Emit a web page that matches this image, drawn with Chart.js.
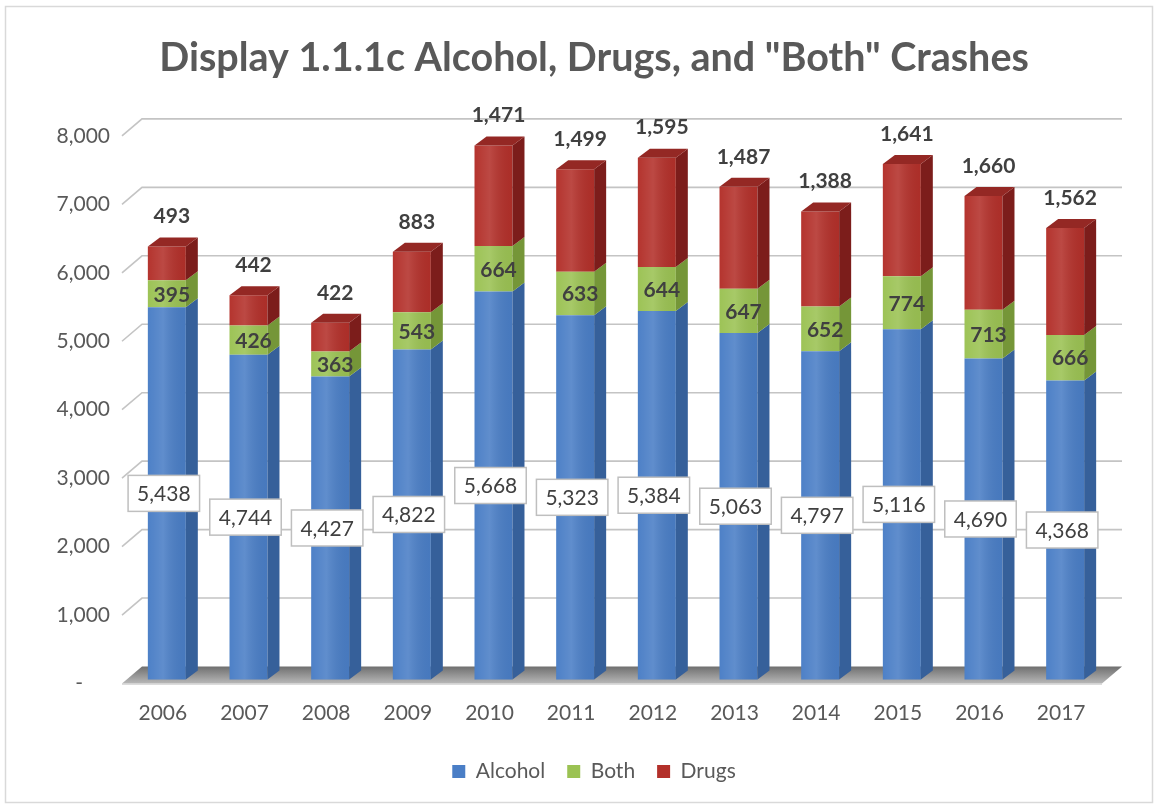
<!DOCTYPE html>
<html lang="en">
<head>
    <meta charset="UTF-8">
    <title>Display 1.1.1c Alcohol, Drugs, and "Both" Crashes</title>
    <script src="https://cdn.jsdelivr.net/npm/chart.js"></script>
    <style>
        body {
            margin: 0;
            padding: 0;
            background-color: #ffffff;
        }
        #chart {
            display: block;
        }
    </style>
</head>
<body>
    <canvas id="chart" width="1158" height="808"></canvas>

    <script>
        // data
        const years = ['2006', '2007', '2008', '2009', '2010', '2011', '2012', '2013', '2014', '2015', '2016', '2017'];
        const alcohol = [5438, 4744, 4427, 4822, 5668, 5323, 5384, 5063, 4797, 5116, 4690, 4368];
        const both = [395, 426, 363, 543, 664, 633, 644, 647, 652, 774, 713, 666];
        const drugs = [493, 442, 422, 883, 1471, 1499, 1595, 1487, 1388, 1641, 1660, 1562];
        const yTicks = [0, 1000, 2000, 3000, 4000, 5000, 6000, 7000, 8000];

        const frontColors = ['#4a7ec6', '#9bc253', '#b3302a'];
        const sideColors = ['#36609a', '#759638', '#7c1d1b'];
        const topColor = '#942824';

        // 3d geometry
        const DX = 12, DY = -9;     // bar depth
        const WX = 20, WY = -17;    // wall/floor depth
        const SX = 4, SY = -4;      // bars sit a bit behind the front plane

        const fmt = v => v.toLocaleString('en-US');

        function poly(ctx, pts, fill) {
            ctx.beginPath();
            ctx.moveTo(pts[0][0], pts[0][1]);
            for (let i = 1; i < pts.length; i++) ctx.lineTo(pts[i][0], pts[i][1]);
            ctx.closePath();
            ctx.fillStyle = fill;
            ctx.fill();
        }

        const bar3d = {
            id: 'bar3d',
            beforeDraw(chart) {
                const { ctx, width, height } = chart;
                ctx.save();
                ctx.fillStyle = '#ffffff';
                ctx.fillRect(0, 0, width, height);
                ctx.strokeStyle = '#d9d9d9';
                ctx.lineWidth = 1.5;
                ctx.strokeRect(5.5, 6.5, width - 11, height - 12);
                ctx.restore();
            },
            beforeDatasetsDraw(chart) {
                const { ctx, chartArea: a, scales } = chart;
                const y = scales.y;
                ctx.save();

                // back wall gridlines with the little slant on the side wall
                ctx.strokeStyle = '#c4c4c4';
                ctx.lineWidth = 1.6;
                y.ticks.forEach(t => {
                    if (t.value === 0) return;
                    const py = y.getPixelForValue(t.value);
                    ctx.beginPath();
                    ctx.moveTo(a.left, py);
                    ctx.lineTo(a.left + WX, py + WY);
                    ctx.lineTo(a.right + WX, py + WY);
                    ctx.stroke();
                });

                // floor
                const y0 = y.getPixelForValue(0);
                const g = ctx.createLinearGradient(0, y0 + WY, 0, y0);
                g.addColorStop(0, '#6f6f6f');
                g.addColorStop(1, '#b8b8b8');
                poly(ctx, [[a.left, y0], [a.left + WX, y0 + WY], [a.right + WX, y0 + WY], [a.right, y0]], g);
                ctx.strokeStyle = '#d0d0d0';
                ctx.lineWidth = 1.5;
                ctx.beginPath();
                ctx.moveTo(a.left, y0 + 0.5);
                ctx.lineTo(a.right, y0 + 0.5);
                ctx.stroke();
                ctx.restore();

                ctx.save();
                ctx.translate(SX, SY);
            },
            afterDatasetsDraw(chart) {
                const { ctx } = chart;
                const n = chart.data.datasets.length;
                chart.data.datasets.forEach((ds, di) => {
                    chart.getDatasetMeta(di).data.forEach(bar => {
                        const { x, y, base, width } = bar.getProps(['x', 'y', 'base', 'width'], true);
                        const l = x - width / 2, r = x + width / 2;
                        // soft sheen on the front face
                        const sh = ctx.createLinearGradient(l, 0, r, 0);
                        sh.addColorStop(0, 'rgba(255,255,255,0.02)');
                        sh.addColorStop(0.4, 'rgba(255,255,255,0.12)');
                        sh.addColorStop(1, 'rgba(0,0,0,0.04)');
                        ctx.fillStyle = sh;
                        ctx.fillRect(l, y, width, base - y);
                        poly(ctx, [[r, y], [r + DX, y + DY], [r + DX, base + DY], [r, base]], sideColors[di]);
                        if (di === n - 1) {
                            poly(ctx, [[l, y], [l + DX, y + DY], [r + DX, y + DY], [r, y]], topColor);
                        }
                    });
                });
                ctx.restore();

                // value labels
                ctx.save();
                ctx.textAlign = 'center';
                ctx.textBaseline = 'middle';
                chart.data.datasets.forEach((ds, di) => {
                    chart.getDatasetMeta(di).data.forEach((bar, i) => {
                        const { x, y, base } = bar.getProps(['x', 'y', 'base'], true);
                        const txt = fmt(ds.data[i]);
                        const cx = x + SX;
                        if (di === 0) {
                            const my = (y + base) / 2 + SY;
                            ctx.font = '21px Lato';
                            const w = ctx.measureText(txt).width + 18;
                            const h = 36;
                            const bx = cx - 3 - w / 2, by = my - h / 2;
                            ctx.fillStyle = '#ffffff';
                            ctx.fillRect(bx, by, w, h);
                            ctx.strokeStyle = '#bfbfbf';
                            ctx.lineWidth = 1.5;
                            ctx.strokeRect(bx, by, w, h);
                            ctx.fillStyle = '#404040';
                            ctx.fillText(txt, cx - 3, my + 1);
                        } else if (di === 1) {
                            ctx.font = 'bold 21px Lato';
                            ctx.fillStyle = '#404040';
                            ctx.fillText(txt, cx + 5, (y + base) / 2 + SY + 1);
                        } else {
                            ctx.font = 'bold 21px Lato';
                            ctx.fillStyle = '#404040';
                            ctx.fillText(txt, cx + 5, y + SY - 30);
                        }
                    });
                });
                ctx.restore();
            }
        };

        Chart.defaults.font.family = 'Lato';
        Chart.defaults.color = '#595959';

        new Chart(document.getElementById('chart'), {
            type: 'bar',
            data: {
                labels: years,
                datasets: [
                    { label: 'Alcohol', data: alcohol, backgroundColor: frontColors[0] },
                    { label: 'Both', data: both, backgroundColor: frontColors[1] },
                    { label: 'Drugs', data: drugs, backgroundColor: frontColors[2] }
                ]
            },
            options: {
                responsive: false,
                animation: false,
                layout: {
                    padding: { left: 30, right: 0, top: 0, bottom: 16 }
                },
                datasets: {
                    bar: {
                        barPercentage: 0.465,
                        categoryPercentage: 1,
                        borderWidth: 0,
                        clip: false
                    }
                },
                plugins: {
                    title: {
                        display: true,
                        text: 'Display 1.1.1c Alcohol, Drugs, and "Both" Crashes',
                        color: '#595959',
                        font: { size: 39.5, weight: 'bold' },
                        padding: { top: 34.5, bottom: 54 }
                    },
                    legend: {
                        position: 'bottom',
                        labels: {
                            boxWidth: 13,
                            boxHeight: 13,
                            padding: 22,
                            color: '#595959',
                            font: { size: 21 }
                        }
                    },
                    tooltip: { enabled: false }
                },
                scales: {
                    x: {
                        stacked: true,
                        grid: { display: false, drawTicks: false },
                        border: { display: false },
                        ticks: { padding: 17, font: { size: 21 }, color: '#595959' },
                        afterFit(scale) { scale.height = 55.5; }
                    },
                    y: {
                        stacked: true,
                        min: 0,
                        max: 8000,
                        afterBuildTicks(scale) { scale.ticks = yTicks.map(v => ({ value: v })); },
                        grid: { display: false, drawTicks: false },
                        border: { display: false },
                        ticks: {
                            padding: 12,
                            font: { size: 21 },
                            color: '#595959',
                            callback: v => v === 0 ? '-     ' : fmt(v)
                        },
                        afterFit(scale) { scale.width = 92; }
                    },
                    // empty right-hand gutter that keeps the plot off the right edge
                    gutter: {
                        type: 'linear',
                        position: 'right',
                        display: true,
                        grid: { display: false, drawTicks: false },
                        border: { display: false },
                        ticks: { display: false },
                        afterFit(scale) { scale.width = 56; }
                    }
                }
            },
            plugins: [bar3d]
        });
    </script>
</body>
</html>
